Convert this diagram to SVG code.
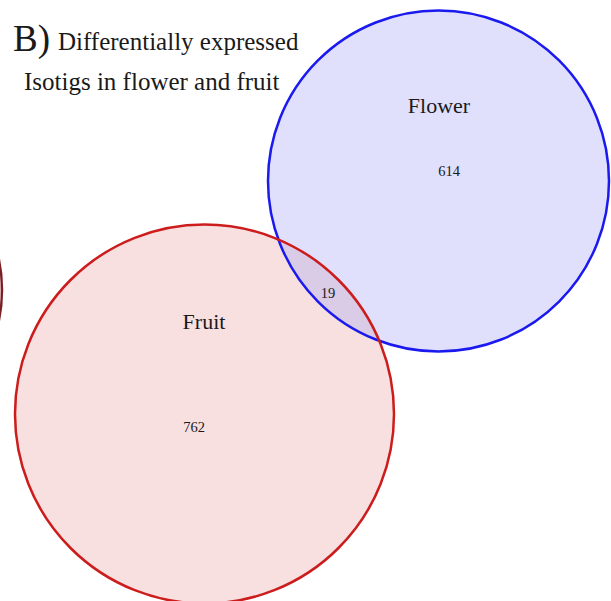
<svg xmlns="http://www.w3.org/2000/svg" width="611" height="601" viewBox="0 0 611 601">
<style>
text{font-family:"Liberation Serif","Times New Roman",serif;fill:#1a1a1a}
.lab{font-size:22px;text-anchor:middle}
.num{font-size:14.5px;text-anchor:middle}
</style>
<defs>
<clipPath id="clipBlue"><circle cx="438.5" cy="181" r="170.5"/></clipPath>
</defs>
<rect width="611" height="601" fill="#ffffff"/>
<g id="leftArc"><circle cx="-150" cy="290" r="152" fill="#f6e6e6" stroke="#7a1f24" stroke-width="2.5"/></g>
<g id="fruit"><circle cx="204.5" cy="414" r="189.5" fill="#f8e0e1"/></g>
<g id="flower"><circle cx="438.5" cy="181" r="170.5" fill="#e0e0fd"/></g>
<g id="overlap"><circle cx="204.5" cy="414" r="189.5" fill="#dacbe6" clip-path="url(#clipBlue)"/></g>
<g id="connectors">
<circle cx="438.5" cy="181" r="170.5" fill="none" stroke="#1a1aee" stroke-width="2.5"/>
<circle cx="204.5" cy="414" r="189.5" fill="none" stroke="#cc1c1c" stroke-width="2.5"/>
</g>
<g id="title">
<text x="13" y="51" font-size="37">B)</text>
<text x="58" y="50" font-size="25">Differentially expressed</text>
<text x="24" y="90" font-size="25">Isotigs in flower and fruit</text>
</g>
<text class="lab" x="439" y="113">Flower</text>
<text class="num" x="449" y="176">614</text>
<text class="lab" x="204" y="329">Fruit</text>
<text class="num" x="194" y="432">762</text>
<text class="num" x="328" y="298">19</text>
</svg>
